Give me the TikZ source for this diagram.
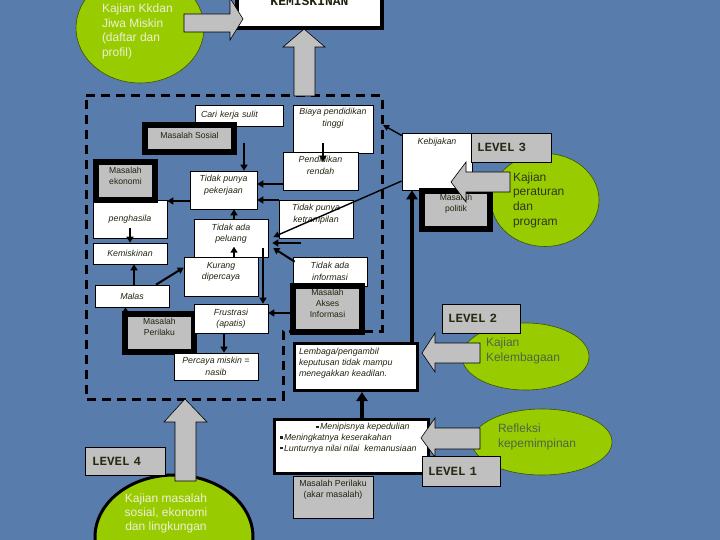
\documentclass[tikz,border=0pt]{standalone}
\usepackage{fontspec}
\setmainfont{Liberation Sans}
\newfontfamily\lvlfont{Liberation Mono}
\usetikzlibrary{arrows.meta,shapes.geometric}
\definecolor{bg}{RGB}{88,124,172}
\definecolor{lime}{RGB}{153,204,0}
\definecolor{boxgray}{RGB}{192,192,192}
\definecolor{ink}{RGB}{35,35,15}
\definecolor{lvlink}{RGB}{40,42,20}
\definecolor{elltxtdark}{RGB}{45,55,30}
\definecolor{elltxtgray}{RGB}{80,100,70}
\definecolor{elltxtlight}{RGB}{235,240,215}
\newcommand{\bul}{\rule[1.6pt]{2.6pt}{2.6pt}\,}
\begin{document}
\begin{tikzpicture}[x=1pt,y=-1pt,
  wbox/.style={draw=black, line width=0.6pt, fill=white, inner sep=0pt, align=center, text=ink, font=\fontsize{8.8}{11.5}\selectfont\itshape},
  mbox/.style={draw=black, line width=6pt, fill=boxgray, inner sep=0pt, align=center, text=ink, font=\fontsize{8.6}{11.2}\selectfont},
  tbox/.style={draw=black, line width=3pt, fill=white, inner sep=0pt, text=ink, font=\fontsize{8.8}{10.6}\selectfont\itshape},
  lvl/.style={draw=black, line width=0.6pt, fill=boxgray, inner xsep=6pt, inner ysep=0pt, align=left, text=lvlink, font=\fontsize{12.5}{14}\selectfont\lvlfont\bfseries},
  ell/.style={ellipse, draw=black!60!lime, line width=0.6pt, fill=lime, inner sep=0pt, align=left, font=\fontsize{12}{14.6}\selectfont},
  barrow/.style={fill=boxgray, draw=black, line width=0.6pt},
  arr/.style={draw=black, line width=2pt, -{Triangle[length=6pt,width=7pt]}},
  thinarr/.style={draw=black, line width=1.4pt, -{Triangle[length=6pt,width=6pt]}},
  bigarr/.style={draw=black, line width=3.5pt, -{Triangle[length=9pt,width=11pt]}},
]
\clip (0,0) rectangle (720,540);
\fill[bg] (0,0) rectangle (720,540);

% ---- ellipses
\node[ell, text=elltxtlight, minimum width=128pt, minimum height=110pt, text height=59pt] (ellA) at (140,28) {\makebox[76pt][l]{Kajian Kkdan}\\Jiwa Miskin\\(daftar dan\\profil)};
\node[ell, text=elltxtdark, minimum width=108pt, minimum height=93pt, text width=64pt] (ellB) at (545,200) {Kajian\\peraturan\\dan\\program};
\node[ell, text=elltxtgray, minimum width=127pt, minimum height=67pt, text depth=14pt] (ellC) at (525.5,356.5) {\makebox[79pt][l]{Kajian}\\Kelembagaan};
\node[ell, text=elltxtgray, minimum width=140pt, minimum height=66pt, text depth=13pt] (ellD) at (542,442) {\makebox[88pt][l]{Refleksi}\\kepemimpinan};
\node[ell, draw=black, line width=3pt, minimum width=158pt, minimum height=124pt] (ellE) at (174,537) {};
\node[font=\fontsize{12}{14}\selectfont, text=elltxtlight, align=center, inner sep=0pt] (ellEt) at (166,513) {Kajian masalah\\sosial, ekonomi\\dan lingkungan};

% ---- dashed frame
\draw[black, line width=3pt, dash pattern=on 9pt off 6pt] (86,96) -- (382,96) -- (382,331) -- (283,331) -- (283,399) -- (86,399) -- cycle;

% ---- top box
\node[draw=black, line width=4pt, fill=white, minimum width=145pt, minimum height=54pt, inner sep=0pt, font=\fontsize{13}{15}\selectfont\lvlfont\bfseries, text=ink] (kem) at (309.5,1.5) {KEMISKINAN};

% ---- inner boxes
\node[wbox, minimum width=88pt, minimum height=21pt, text width=76pt, align=left] (cari) at (239,115.5) {Cari kerja sulit};
\node[wbox, minimum width=80pt, minimum height=48pt, text depth=23pt] (biaya) at (333,129) {Biaya pendidikan\\tinggi};
\node[mbox, minimum width=89pt, minimum height=27pt, text depth=7pt] (sosial) at (189.5,138.5) {Masalah Sosial};
\node[wbox, minimum width=75pt, minimum height=38pt, text depth=11pt] (pendrendah) at (320.5,171) {Pendidikan\\rendah};
\node[wbox, minimum width=67pt, minimum height=38pt, text depth=11pt] (pek) at (223.5,190) {Tidak punya\\pekerjaan};
\node[wbox, minimum width=74pt, minimum height=38pt, text depth=11pt] (ketr) at (316,219) {Tidak punya\\ketrampilan};
\node[wbox, minimum width=74pt, minimum height=38pt] (pengh) at (130,219) {penghasila};
\node[mbox, minimum width=59pt, minimum height=38pt, text depth=11pt] (eko) at (125.5,181) {Masalah\\ekonomi};
\node[wbox, minimum width=74pt, minimum height=21pt] (kemis) at (130,253.5) {Kemiskinan};
\node[wbox, minimum width=74pt, minimum height=38pt, text depth=10pt] (peluang) at (231,238) {Tidak ada\\peluang};
\node[wbox, minimum width=74pt, minimum height=39pt, text depth=11pt] (kurang) at (221,276.5) {Kurang\\dipercaya};
\node[wbox, minimum width=74pt, minimum height=22pt] (malas) at (132,296) {Malas};
\node[mbox, minimum width=69pt, minimum height=38pt, text depth=12pt] (perilaku) at (159.5,333) {Masalah\\Perilaku};
\node[wbox, minimum width=74pt, minimum height=29pt] (frus) at (231,318.5) {Frustrasi\\(apatis)};
\node[wbox, minimum width=84pt, minimum height=27pt] (percaya) at (216,366.5) {Percaya miskin =\\nasib};
\node[wbox, minimum width=74pt, minimum height=29pt] (info) at (330,271.5) {Tidak ada\\informasi};
\node[mbox, minimum width=69pt, minimum height=46pt, text depth=11pt] (akses) at (327.5,309) {Masalah\\Akses\\Informasi};

% ---- right side boxes
\node[wbox, minimum width=70pt, minimum height=57pt, text depth=40pt] (kebij) at (437,161.5) {Kebijakan};
\node[mbox, minimum width=68pt, minimum height=38pt, text depth=14pt] (politik) at (456,210) {Masalah\\politik};
\node[tbox, minimum width=123pt, minimum height=47pt] (lemb) at (356,367) {\parbox[c][46pt][t]{114pt}{\vspace*{4.5pt}Lembaga/pengambil\\keputusan tidak mampu\\menegakkan keadilan.}};
\node[tbox, minimum width=154pt, minimum height=54pt] (menip) at (351.5,446.5) {\parbox[c][53pt][t]{143pt}{\vspace*{3.5pt}\hspace*{36pt}\bul Menipisnya kepedulian\\\bul Meningkatnya keserakahan\\\bul Lunturnya nilai nilai\ \ kemanusiaan}};
\node[wbox, fill=boxgray, font=\fontsize{8.8}{11}\selectfont, minimum width=80pt, minimum height=42pt, text depth=16pt] (akar) at (333,497) {Masalah Perilaku\\(akar masalah)};

% ---- line connectors
\draw[arr] ([xshift=-10pt,yshift=10pt]biaya.south) -- ([xshift=2.5pt,yshift=-10pt]pendrendah.north);
\coordinate (s1) at ([xshift=7pt,yshift=-4.5pt]sosial.east);
\draw[arr] (s1) -- (s1 |- pek.north);
\coordinate (p1) at ([yshift=6pt]pek.east);
\draw[arr] (p1 -| pendrendah.west) -- (p1);
\coordinate (p2) at ([yshift=-10pt]pek.east);
\draw[arr] (p2 -| ketr.west) -- (p2);
\coordinate (p3) at ([yshift=-11pt]pek.west);
\draw[arr] (p3) -- (p3 -| pengh.east);
\draw[arr] ([yshift=10pt]pengh.south) -- (kemis.north);
\coordinate (u1) at ([xshift=3pt]peluang.north);
\draw[arr] (u1) -- (u1 |- pek.south);
\coordinate (k1) at ([xshift=13pt]kurang.north);
\draw[arr] (k1) -- ([yshift=10pt]k1);
\coordinate (m1) at ([xshift=2pt]malas.north);
\draw[arr] (m1) -- (m1 |- kemis.south);
\draw[arr] ([xshift=24pt]malas.north) -- ([yshift=9pt]kurang.west);
\coordinate (r1) at ([xshift=-34pt]perilaku.north);
\draw[arr] (r1) -- (r1 |- malas.south);
\coordinate (f1) at ([xshift=32pt,yshift=-10pt]peluang.center);
\draw[arr] (f1) -- (f1 |- frus.north);
\coordinate (a1) at ([yshift=5.5pt]frus.east);
\draw[arr] (a1 -| akses.west) -- (a1);
\coordinate (f2) at ([xshift=-7pt]frus.south);
\draw[arr] (f2) -- (f2 |- percaya.north);
\coordinate (hfree) at (301,243);
\draw[arr] (hfree) -- ([xshift=4pt]hfree -| peluang.east);
\draw[arr] ([xshift=2pt,yshift=-5pt]info.north west) -- ([xshift=5pt,yshift=-10pt]peluang.east);
\draw[thinarr] ([yshift=-19.5pt]kebij.west) -- ([xshift=5pt,yshift=1pt]peluang.east);
\coordinate (dashR) at (383,125);
\draw[thinarr] ([yshift=26pt]kebij.west) -- (dashR);
\coordinate (l1) at ([xshift=56pt]lemb.north);
\draw[bigarr] (l1) -- (l1 |- kebij.south);
\coordinate (n1) at ([xshift=10.5pt]menip.north);
\draw[bigarr] (n1) -- (n1 |- lemb.south);

% ---- block arrows
\draw[barrow] (184,14) -- (230,14) -- (230,-2) -- (243,19) -- (230,40) -- (230,32) -- (184,32) -- cycle;
\draw[barrow] (294,96) -- (294,47) -- (283,47) -- (304,29) -- (325,47) -- (315,47) -- (315,96) -- cycle;
\draw[barrow] (510,172) -- (466,172) -- (466,162) -- (451,182) -- (466,202) -- (466,192) -- (510,192) -- cycle;
\draw[barrow] (480,343) -- (435,343) -- (435,333) -- (422,353) -- (435,372) -- (435,363) -- (480,363) -- cycle;
\draw[barrow] (480,428) -- (435,428) -- (435,418) -- (421,438) -- (435,457) -- (435,449) -- (480,449) -- cycle;
\draw[barrow] (175,481) -- (175,422) -- (164,422) -- (185,399) -- (207,422) -- (196,422) -- (196,481) -- cycle;

% ---- level labels
\node[lvl, minimum width=80pt, minimum height=29pt, text width=68pt] (lvl3) at (511,147.5) {LEVEL 3};
\node[lvl, minimum width=78pt, minimum height=29pt, text width=66pt] (lvl2) at (481,318.5) {LEVEL 2};
\node[lvl, minimum width=78pt, minimum height=30pt, text width=66pt] (lvl1) at (461,471) {LEVEL 1};
\node[lvl, inner xsep=7pt, minimum width=80pt, minimum height=28pt, text width=66pt] (lvl4) at (125,461) {LEVEL 4};
\end{tikzpicture}
\end{document}
